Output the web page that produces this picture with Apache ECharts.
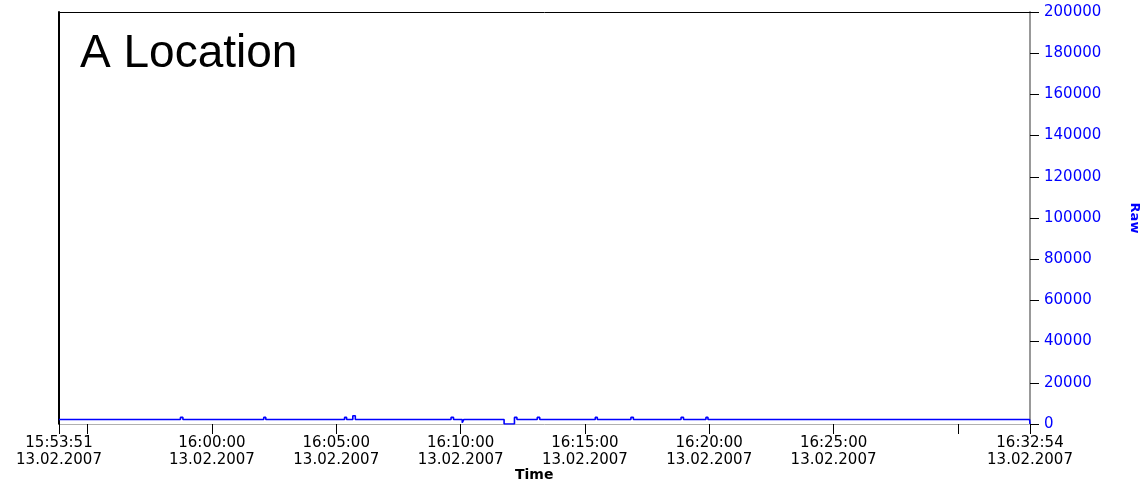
<!DOCTYPE html>
<html>
<head>
<meta charset="utf-8">
<script src="https://cdn.jsdelivr.net/npm/echarts@6/dist/echarts.min.js"></script>
<style>
html,body{margin:0;padding:0;background:#fff;}
#chart{width:1140px;height:483px;}
</style>
</head>
<body>
<div id="chart"></div>
<script>
// ---- data ----
const chartTitle = "A Location";
const xAxisTitle = "Time";
const yAxisTitle = "Raw";
const dateLabel = "13.02.2007";
const axisStart = "15:53:51";
const axisEnd = "16:32:54";
const tickTimes = ["15:53:51","15:55:00","16:00:00","16:05:00","16:10:00","16:15:00","16:20:00","16:25:00","16:30:00","16:32:54"];
const labelTimes = ["15:53:51","16:00:00","16:05:00","16:10:00","16:15:00","16:20:00","16:25:00","16:32:54"];
const rawTimes = ["15:53:51","15:58:44","15:58:50","16:02:05","16:02:10","16:05:20","16:05:25","16:05:40","16:05:46",
  "16:09:37","16:09:43","16:10:04","16:10:08","16:11:45","16:12:10","16:12:16","16:13:05","16:13:11",
  "16:15:25","16:15:30","16:16:51","16:16:57","16:18:52","16:18:58","16:19:52","16:19:57","16:32:53","16:32:54"];
const rawValues = [2200,3200,2200,3200,2200,3200,2200,4000,2200,
  3200,2200,600,2200,0,3200,2200,3200,2200,
  3200,2200,3200,2200,3200,2200,3200,2200,2200,0];
const yMin = 0, yMax = 200000, yStep = 20000;

// ---- helpers ----
function toSec(s){const p=s.split(':').map(Number);return p[0]*3600+p[1]*60+p[2];}
function pad(n){return (n<10?'0':'')+n;}
function fmt(v){v=Math.round(v);return pad(Math.floor(v/3600))+':'+pad(Math.floor(v%3600/60))+':'+pad(v%60);}
const xMin = toSec(axisStart), xMax = toSec(axisEnd);
// sample-and-hold: each value holds until the next sample time
const seriesData = [];
rawTimes.forEach((t,i)=>{
  const s = toSec(t);
  if(i>0) seriesData.push([s, rawValues[i-1]]);
  seriesData.push([s, rawValues[i]]);
});

const chart = echarts.init(document.getElementById('chart'));
chart.setOption({
  animation:false,
  backgroundColor:'#fff',
  title:{text:chartTitle,left:80,top:31,padding:0,
    textStyle:{fontFamily:'Liberation Sans',fontSize:46,fontWeight:'normal',color:'#000',lineHeight:46}},
  grid:{left:59,right:110,top:12,bottom:59,containLabel:false,outerBoundsMode:'none'},
  graphic:[{
    type:'text',left:515,top:468,
    style:{text:xAxisTitle,fontFamily:'DejaVu Sans',fontWeight:'bold',fontSize:14,fill:'#000'}
  }],
  xAxis:[{
    type:'value',min:xMin,max:xMax,position:'bottom',
    axisLine:{show:true,lineStyle:{color:'#b0b0b0',width:1}},
    axisTick:{show:true,length:10,lineStyle:{color:'#000'},customValues:tickTimes.map(toSec)},
    axisLabel:{show:true,customValues:labelTimes.map(toSec),margin:11,
      fontFamily:'DejaVu Sans',fontSize:15,lineHeight:17,color:'#000',
      formatter:function(v){return fmt(v)+'\n'+dateLabel;}},
    splitLine:{show:false}
  },{
    type:'value',min:xMin,max:xMax,position:'top',
    axisLine:{show:true,onZero:false,lineStyle:{color:'#000',width:1}},
    axisTick:{show:false},axisLabel:{show:false},splitLine:{show:false}
  }],
  yAxis:[{
    type:'value',min:yMin,max:yMax,interval:yStep,position:'right',
    name:yAxisTitle,nameLocation:'middle',nameGap:98,nameRotate:-90,
    nameTextStyle:{fontFamily:'DejaVu Sans',fontWeight:'bold',fontSize:13,color:'#0000ff'},
    axisLine:{show:true,lineStyle:{color:'#999',width:2}},
    axisTick:{show:true,length:9,lineStyle:{color:'#000'}},
    axisLabel:{show:true,margin:14,fontFamily:'DejaVu Sans',fontSize:15,color:'#0000ff',
      formatter:function(v){return String(v);}},
    splitLine:{show:false}
  },{
    type:'value',min:yMin,max:yMax,position:'left',
    axisLine:{show:true,onZero:false,lineStyle:{color:'#000',width:2}},
    axisTick:{show:false},axisLabel:{show:false},splitLine:{show:false}
  }],
  series:[{
    type:'line',xAxisIndex:0,yAxisIndex:0,showSymbol:false,
    data:seriesData,lineStyle:{color:'#0000ff',width:1.6},itemStyle:{color:'#0000ff'}
  }]
});
</script>
</body>
</html>
